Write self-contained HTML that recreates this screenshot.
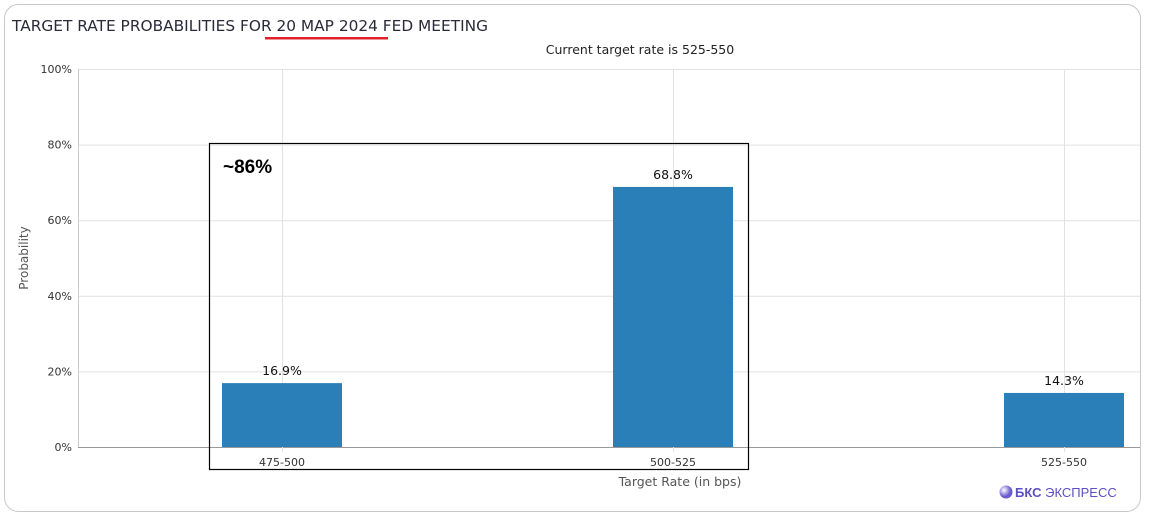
<!DOCTYPE html>
<html><head><meta charset="utf-8"><style>
body{margin:0;background:#fff;width:1157px;height:520px;overflow:hidden;font-family:"Liberation Sans","DejaVu Sans",sans-serif}
</style></head><body>
<svg width="1157" height="520">
<rect x="4.5" y="4.5" width="1136" height="507" rx="14" fill="#fff" stroke="#c8c8c8"/>
<text x="12" y="31" font-size="15.5" fill="#2a2a3a" font-family="DejaVu Sans, sans-serif" textLength="476" lengthAdjust="spacingAndGlyphs">TARGET RATE PROBABILITIES FOR 20 MAP 2024 FED MEETING</text>
<rect x="265" y="37" width="123" height="2.5" fill="#e0202a"/>
<text x="640" y="54" font-size="12.5" fill="#222" text-anchor="middle" font-family="DejaVu Sans, sans-serif">Current target rate is 525-550</text>
<g id="grid"></g>
<g id="bars"></g>
<text transform="translate(28,258) rotate(-90)" font-size="12" fill="#555" text-anchor="middle" font-family="DejaVu Sans, sans-serif">Probability</text>
<text x="680" y="486" font-size="12.5" fill="#555" text-anchor="middle" font-family="DejaVu Sans, sans-serif">Target Rate (in bps)</text>
<rect x="209.5" y="143.5" width="539" height="326" fill="none" stroke="#000" stroke-width="1.2"/>
<text x="223" y="173" font-size="19" font-weight="bold" fill="#000">~86%</text>
<defs><radialGradient id="lg" cx="0.35" cy="0.35"><stop offset="0" stop-color="#fff"/><stop offset="1" stop-color="#6a5acd"/></radialGradient></defs>
<circle cx="1006" cy="492" r="6.5" fill="url(#lg)"/>
<text x="1015" y="497" font-size="13" fill="#5b4fc4"><tspan font-weight="bold">БКС</tspan> ЭКСПРЕСС</text>
</svg>
<script>
const categories=["475-500","500-525","525-550"];
const values=[16.9,68.8,14.3];
const yTicks=[0,20,40,60,80,100];
const ns="http://www.w3.org/2000/svg";
const x0=78,x1=1140,y0=447,y100=69;
const y=v=>y0-(y0-y100)*v/100;
const xc=i=>282+i*391;
function mk(t,a,p){const e=document.createElementNS(ns,t);for(const k in a)e.setAttribute(k,a[k]);p.appendChild(e);return e;}
const g=document.getElementById('grid'),b=document.getElementById('bars');
yTicks.forEach(t=>{
 const l=mk('line',{x1:x0,x2:x1,y1:y(t)+.5,y2:y(t)+.5,stroke:t===0?'#999':'#e2e2e2'},g);
 
 
 const tx=mk('text',{x:72,y:y(t)+4,'font-size':11,fill:'#333','text-anchor':'end','font-family':'DejaVu Sans, sans-serif'},g);
 tx.textContent=t+'%';
 
 
});
const ax=mk('line',{x1:x0+.5,x2:x0+.5,y1:y100,y2:y0,stroke:'#ccc'},g);


categories.forEach((c,i)=>{
 const vl=mk('line',{x1:xc(i)+.5,x2:xc(i)+.5,y1:y100,y2:y0+5,stroke:'#e2e2e2'},g);
 
 
 const r=mk('rect',{x:xc(i)-60,y:y(values[i]),width:120,height:y0-y(values[i]),fill:'#2a7fb8'},b);
 
 
 const v=mk('text',{x:xc(i),y:y(values[i])-8,'font-size':12.5,fill:'#111','text-anchor':'middle','font-family':'DejaVu Sans, sans-serif'},b);
 v.textContent=values[i].toFixed(1)+'%';
 
 
 const xl=mk('text',{x:xc(i),y:466,'font-size':11,fill:'#333','text-anchor':'middle','font-family':'DejaVu Sans, sans-serif'},b);
 xl.textContent=c;
 
 
});
</script>
</body></html>
